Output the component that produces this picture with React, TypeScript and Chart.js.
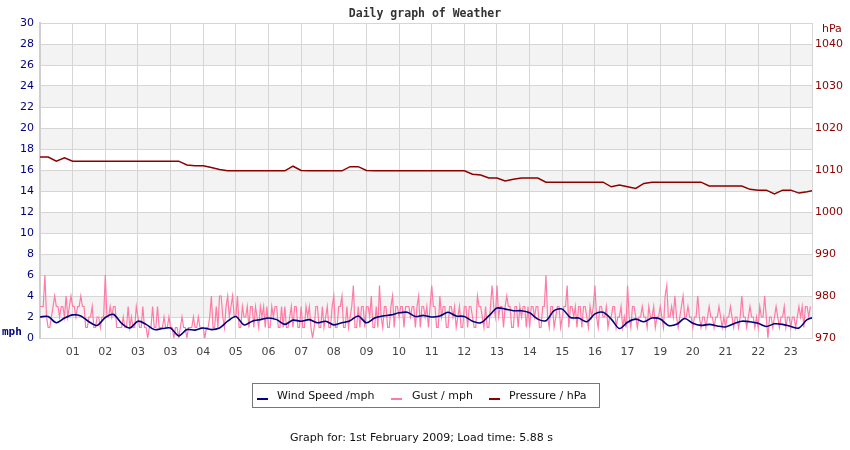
import React, { useEffect, useRef } from "react";
import { Chart, registerables } from "chart.js";

Chart.register(...registerables);

const hourLabels = ["01","02","03","03","04","05","06","07","08","09","10","11","12","13","14","15","16","17","19","20","21","22","23"];

// Gust (mph), 20 samples per x-axis interval
const gust = [
  3,3,3,6,2,1,1,2,3,4,3,3,2,3,3,2,4,2,3,4,
  3,3,2,3,3,4,3,3,1,1,2,2,3,1,1,2,2,1,2,2,
  6,2,2,3,2,3,3,1,1,1,1,2,1,1,3,1,2,1,1,3,
  2,1,1,3,1,1,0,1,1,3,1,1,3,1,1,1,2,1,1,2,
  1,1,0,1,1,0,1,2,1,1,0,1,1,1,2,1,1,2,1,1,
  1,0,1,1,2,4,1,1,3,1,4,4,2,1,3,4,2,3,4,2,
  2,4,1,1,3,2,2,3,1,3,3,1,3,2,1,3,2,3,1,3,
  1,1,3,2,3,3,1,1,3,1,3,1,1,2,3,1,3,3,1,1,
  3,1,1,3,2,3,1,0,1,3,3,1,1,3,1,2,3,1,1,3,
  4,1,1,3,3,4,1,1,3,1,2,3,5,1,1,3,1,3,3,1,
  3,3,2,4,1,1,3,1,5,2,1,3,3,1,1,3,4,1,3,3,
  2,3,3,1,3,3,3,2,3,3,1,3,4,1,3,3,2,3,1,3,
  5,3,3,1,1,4,2,3,3,1,1,3,3,2,3,1,2,3,1,1,
  3,3,1,3,3,2,1,1,4,3,3,2,1,3,1,1,3,5,3,2,
  5,2,3,3,1,3,4,3,3,1,1,3,3,1,3,2,3,3,1,3,
  1,3,3,2,3,3,1,1,3,3,6,2,1,3,3,1,2,3,3,1,
  2,3,3,5,1,3,3,2,3,1,3,3,1,3,3,2,1,3,2,3,
  5,2,1,3,3,2,2,3,1,2,2,3,3,1,2,2,3,1,2,1,
  5,2,1,3,3,2,1,2,2,3,2,2,1,3,2,2,3,1,2,2,
  3,2,1,4,5,2,2,3,2,4,2,1,2,3,4,2,2,3,2,2,
  1,2,2,4,2,1,2,2,1,2,3,2,2,1,2,2,3,2,1,2,
  1,2,2,3,2,1,2,2,1,2,4,2,2,1,2,3,2,2,1,2,
  1,3,2,2,4,2,0,2,2,1,2,3,2,1,2,2,3,1,2,2,
  1,2,2,1,2,3,2,3,1,3,3,2,3
];

// Wind speed (mph), 4 samples per x-axis interval
const windSpeed = [
  2.0,2.05,1.45,1.9,2.2,2.1,1.55,1.2,
  1.95,2.25,1.4,0.95,1.6,1.3,0.8,0.9,
  0.95,0.2,0.8,0.75,0.95,0.8,0.95,1.6,
  2.05,1.25,1.6,1.75,1.9,1.75,1.3,1.7,
  1.6,1.75,1.45,1.6,1.25,1.45,1.65,2.1,
  1.45,1.9,2.1,2.2,2.4,2.45,2.05,2.15,
  2.0,2.1,2.45,2.1,2.05,1.6,1.45,2.1,
  2.85,2.75,2.6,2.6,2.4,1.8,1.65,2.6,
  2.75,1.95,1.9,1.55,2.3,2.45,1.8,0.9,
  1.5,1.8,1.55,1.9,1.8,1.2,1.3,1.85,
  1.4,1.2,1.3,1.15,1.05,1.35,1.6,1.55,
  1.4,1.1,1.35,1.3,1.1,0.95,1.75,2.0
];

// Pressure (hPa), 4 samples per x-axis interval
const pressure = [
  1013.1,1013.1,1012.1,1012.9,1012.1,1012.1,1012.1,1012.1,
  1012.1,1012.1,1012.1,1012.1,1012.1,1012.1,1012.1,1012.1,
  1012.1,1012.1,1011.2,1011.0,1011.0,1010.6,1010.1,1009.8,
  1009.8,1009.8,1009.8,1009.8,1009.8,1009.8,1009.8,1010.9,
  1009.9,1009.8,1009.8,1009.8,1009.8,1009.8,1010.8,1010.8,
  1009.9,1009.8,1009.8,1009.8,1009.8,1009.8,1009.8,1009.8,
  1009.8,1009.8,1009.8,1009.8,1009.8,1009.0,1008.8,1008.1,
  1008.1,1007.4,1007.8,1008.1,1008.1,1008.1,1007.1,1007.1,
  1007.1,1007.1,1007.1,1007.1,1007.1,1007.1,1006.0,1006.4,
  1006.0,1005.6,1006.8,1007.1,1007.1,1007.1,1007.1,1007.1,
  1007.1,1007.1,1006.2,1006.2,1006.2,1006.2,1006.2,1005.4,
  1005.2,1005.2,1004.3,1005.2,1005.2,1004.5,1004.8,1005.2
];

const GRID = "#d6d6d6";
const BAND = "#f3f3f3";
const NAVY = "#000080";
const PINK = "#ff7aa5";
const DARKRED = "#8b0000";

const bandsPlugin = {
  id: "bands",
  beforeDraw(chart: any) {
    const { ctx, chartArea, scales } = chart;
    const y = scales.y;
    ctx.save();
    ctx.fillStyle = BAND;
    for (let v = 2; v < 30; v += 4) {
      const top = y.getPixelForValue(v + 2);
      const bot = y.getPixelForValue(v);
      ctx.fillRect(chartArea.left, top, chartArea.right - chartArea.left, bot - top);
    }
    ctx.restore();
  },
};

const FONT = "'DejaVu Sans', Verdana, sans-serif";

export default function App() {
  const ref = useRef<HTMLCanvasElement | null>(null);

  useEffect(() => {
    if (!ref.current) return;
    const chart = new Chart(ref.current, {
      type: "line",
      data: {
        datasets: [
          {
            label: "Wind Speed /mph",
            data: windSpeed.map((v, i) => ({ x: i / 4, y: v })),
            borderColor: NAVY,
            borderWidth: 1.6,
            pointRadius: 0,
            tension: 0.3,
            yAxisID: "y",
          },
          {
            label: "Gust / mph",
            data: gust.map((v, i) => ({ x: i / 20, y: v })),
            borderColor: PINK,
            borderWidth: 1.2,
            pointRadius: 0,
            tension: 0,
            yAxisID: "y",
          },
          {
            label: "Pressure / hPa",
            data: pressure.map((v, i) => ({ x: i / 4, y: v })),
            borderColor: DARKRED,
            borderWidth: 1.5,
            pointRadius: 0,
            tension: 0,
            yAxisID: "y2",
          },
        ],
      },
      options: {
        animation: false,
        responsive: false,
        devicePixelRatio: 1,
        layout: { padding: { top: 23, left: 0, right: 0, bottom: 0 } },
        plugins: {
          legend: { display: false },
          title: { display: false },
          tooltip: { enabled: false },
        },
        scales: {
          x: {
            type: "linear",
            min: 0,
            max: 23.65,
            afterFit: (s: any) => { s.height = 112; },
            grid: { color: GRID, drawTicks: false },
            border: { color: GRID },
            ticks: {
              stepSize: 1,
              autoSkip: false,
              includeBounds: false,
              maxRotation: 0,
              padding: 8,
              color: "#444",
              font: { family: FONT, size: 11 },
              callback: (v: any) => {
                const n = Math.round(Number(v));
                return n >= 1 && n <= hourLabels.length ? hourLabels[n - 1] : "";
              },
            },
          },
          y: {
            position: "left",
            min: 0,
            max: 30,
            afterFit: (s: any) => { s.width = 40; },
            grid: { color: GRID, drawTicks: false },
            border: { color: "#cfcfcf", width: 2 },
            ticks: {
              stepSize: 2,
              padding: 6,
              color: NAVY,
              font: { family: FONT, size: 11 },
            },
          },
          y2: {
            position: "right",
            min: 970,
            max: 1045,
            afterFit: (s: any) => { s.width = 38; },
            grid: { drawOnChartArea: false, drawTicks: false },
            border: { color: GRID },
            ticks: {
              stepSize: 10,
              includeBounds: false,
              padding: 3,
              color: DARKRED,
              font: { family: FONT, size: 11 },
              callback: (v: any) => String(Math.round(Number(v))),
            },
          },
        },
      },
      plugins: [bandsPlugin],
    });
    return () => chart.destroy();
  }, []);

  const legendItem = (color: string, text: string, dashLeft: number, textLeft: number) => (
    <>
      <div style={{ position: "absolute", left: dashLeft, top: 398, width: 11, height: 2, background: color }} />
      <div style={{ position: "absolute", left: textLeft, top: 389, fontFamily: FONT, fontSize: 11, color: "#111", whiteSpace: "nowrap", lineHeight: "14px" }}>{text}</div>
    </>
  );

  return (
    <div style={{ position: "fixed", left: 0, top: 0, width: 850, height: 450, background: "#fff", overflow: "hidden" }}>
      <canvas ref={ref} width={850} height={450} style={{ position: "absolute", left: 0, top: 0 }} />
      <div style={{ position: "absolute", left: 0, top: 5, width: 850, textAlign: "center", fontFamily: "'DejaVu Sans Mono', monospace", fontWeight: "bold", fontSize: 11.5, color: "#333", lineHeight: "16px" }}>
        Daily graph of Weather
      </div>
      <div style={{ position: "absolute", left: 2, top: 325, fontFamily: "'DejaVu Sans Mono', monospace", fontWeight: "bold", fontSize: 11, color: NAVY, lineHeight: "14px" }}>mph</div>
      <div style={{ position: "absolute", left: 822, top: 22, fontFamily: FONT, fontSize: 11, color: DARKRED, lineHeight: "14px" }}>hPa</div>
      <div style={{ position: "absolute", left: 252, top: 383, width: 346, height: 23, border: "1px solid #777" }} />
      {legendItem(NAVY, "Wind Speed /mph", 257, 277)}
      {legendItem(PINK, "Gust / mph", 391, 412)}
      {legendItem(DARKRED, "Pressure / hPa", 489, 509)}
      <div style={{ position: "absolute", left: 0, top: 431, width: 843, textAlign: "center", fontFamily: FONT, fontSize: 11, color: "#111", lineHeight: "14px" }}>
        Graph for: 1st February 2009; Load time: 5.88 s
      </div>
    </div>
  );
}
